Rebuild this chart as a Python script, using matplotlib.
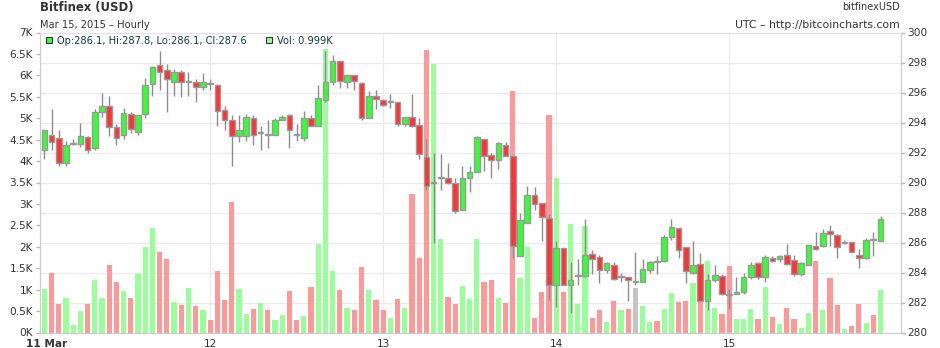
import matplotlib
matplotlib.use("Agg")
import matplotlib.pyplot as plt
from matplotlib.patches import Rectangle
from matplotlib.ticker import FixedLocator, FuncFormatter

# hourly candles, hour 1 = 11 Mar 01:00 UTC
hours = list(range(1, 118))
opens = [
    292.2, 293.2, 293.0, 291.3, 292.55, 292.6, 293.0, 292.3, 294.7, 295.1,
    293.7, 293.2, 294.6, 293.4, 294.6, 296.6, 297.8, 297.5, 296.7, 297.4,
    296.7, 296.7, 296.4, 296.6, 296.5, 294.8, 294.2, 293.1, 293.1, 294.3,
    293.3, 293.25, 293.2, 294.2, 294.5, 293.25, 293.0, 294.3, 293.8, 295.5,
    296.7, 298.1, 296.7, 297.2, 296.6, 294.3, 295.8, 295.5, 295.4, 295.4,
    293.9, 294.4, 293.8, 291.7, 290.0, 290.3, 290.3, 290.0, 288.2, 290.3,
    290.7, 292.9, 291.8, 291.5, 292.5, 291.8, 285.1, 287.3, 289.2, 288.6,
    287.6, 283.2, 285.6, 283.2, 283.8, 283.8, 285.2, 285.0, 284.2, 284.5,
    283.7, 283.7, 283.4, 283.4, 284.2, 284.75, 284.8, 286.4, 287.0, 285.7,
    284.0, 284.6, 282.1, 283.5, 283.8, 282.55, 282.6, 282.7, 283.7, 284.6,
    283.7, 285.0, 284.9, 285.2, 284.8, 283.9, 284.5, 285.8, 285.8, 286.8,
    286.5, 285.95, 286.0, 285.2, 285.0, 286.2, 286.1,
]
highs = [
    293.5, 294.9, 293.5, 292.8, 292.9, 294.0, 293.1, 294.9, 296.0, 295.8,
    293.9, 295.0, 294.7, 294.5, 297.0, 297.8, 298.8, 297.9, 297.6, 297.5,
    297.4, 296.9, 297.3, 296.9, 296.6, 295.1, 294.5, 294.5, 294.6, 294.5,
    293.8, 294.2, 294.3, 294.5, 294.6, 293.9, 294.8, 294.5, 296.5, 298.8,
    298.5, 298.1, 297.2, 297.2, 296.7, 296.1, 296.2, 295.6, 295.9, 295.4,
    294.4, 295.9, 294.3, 292.9, 292.0, 291.9, 291.3, 290.3, 291.1, 291.1,
    293.1, 292.9, 292.0, 292.7, 292.7, 291.8, 288.0, 289.8, 289.7, 288.6,
    287.9, 286.1, 285.6, 284.7, 284.9, 287.6, 285.5, 285.2, 284.7, 284.7,
    284.0, 283.7, 285.4, 284.9, 284.8, 285.1, 286.5, 287.6, 287.0, 285.7,
    286.1, 285.3, 283.9, 284.5, 283.9, 282.9, 283.7, 284.0, 284.7, 284.7,
    285.2, 285.1, 285.2, 285.9, 285.2, 284.7, 285.8, 286.7, 286.9, 287.2,
    286.6, 286.2, 286.0, 285.6, 286.3, 286.7, 287.8,
]
lows = [
    291.6, 292.2, 291.1, 291.1, 292.5, 292.4, 292.0, 292.2, 294.4, 293.1,
    292.5, 292.9, 293.3, 293.2, 294.3, 295.8, 296.2, 294.7, 295.8, 295.7,
    295.8, 295.4, 296.2, 296.2, 293.8, 293.5, 291.1, 292.7, 292.8, 292.5,
    292.2, 292.3, 293.2, 294.2, 292.3, 292.8, 292.8, 293.8, 293.8, 295.4,
    296.5, 296.3, 296.3, 296.2, 294.2, 294.3, 294.9, 295.1, 295.0, 293.8,
    293.8, 293.7, 291.6, 289.5, 286.0, 289.5, 289.9, 288.0, 288.2, 289.4,
    290.7, 290.8, 290.3, 290.9, 291.8, 285.0, 285.1, 287.3, 288.2, 286.1,
    282.2, 281.7, 283.2, 281.3, 283.2, 283.7, 283.9, 283.3, 284.0, 283.5,
    283.4, 282.1, 283.2, 283.4, 284.0, 283.9, 284.7, 286.2, 285.0, 283.3,
    283.9, 282.1, 281.5, 283.4, 282.5, 281.6, 282.6, 282.6, 283.6, 283.6,
    283.4, 284.7, 284.7, 284.5, 283.8, 283.8, 284.5, 285.5, 285.7, 285.8,
    285.0, 285.9, 285.4, 284.3, 284.9, 285.1, 286.1,
]
closes = [
    293.5, 292.7, 291.3, 292.5, 292.6, 293.1, 292.2, 294.7, 295.1, 293.7,
    293.0, 294.6, 293.6, 294.5, 296.5, 297.7, 297.4, 296.9, 297.4, 296.7,
    296.75, 296.4, 296.7, 296.55, 294.8, 294.2, 293.1, 293.5, 294.4, 293.2,
    293.35, 293.2, 294.2, 294.4, 293.5, 293.2, 294.3, 293.8, 295.6, 296.7,
    298.1, 296.8, 297.2, 296.8, 294.3, 295.8, 295.6, 295.2, 295.45, 293.9,
    294.4, 293.8, 291.9, 289.8, 290.05, 290.35, 290.0, 288.1, 290.3, 290.7,
    293.0, 291.8, 291.5, 292.6, 291.8, 285.8, 287.5, 289.2, 288.6, 287.7,
    283.2, 285.6, 283.2, 283.5, 283.85, 285.2, 284.9, 284.2, 284.6, 283.6,
    283.75, 283.5, 283.4, 284.2, 284.7, 284.7, 286.4, 287.0, 285.5, 284.1,
    284.5, 282.1, 283.5, 283.8, 282.6, 282.5, 282.7, 283.7, 284.5, 283.7,
    285.0, 284.8, 285.1, 284.6, 283.9, 284.6, 285.8, 285.6, 286.6, 286.6,
    285.7, 286.0, 285.4, 285.0, 286.2, 286.15, 287.6,
]
volumes = [
    1015, 1390, 665, 810, 175, 510, 665, 1225, 810, 1575,
    1180, 970, 810, 1365, 1995, 2440, 1880, 1715, 710, 640,
    1040, 630, 515, 290, 1440, 760, 3045, 1015, 430, 555,
    690, 515, 290, 410, 970, 290, 385, 1060, 2065, 6610,
    1435, 990, 570, 525, 1530, 990, 760, 525, 340, 780,
    570, 3230, 1740, 6590, 6260, 2180, 830, 665, 1085, 790,
    2180, 1180, 1225, 810, 690, 5635, 1270, 1995, 345, 945,
    5075, 3605, 945, 2530, 665, 2485, 340, 525, 245, 735,
    515, 560, 1040, 630, 245, 270, 560, 920, 710, 735,
    1155, 1250, 1675, 570, 430, 1550, 315, 315, 560, 315,
    1060, 360, 200, 570, 315, 105, 455, 1675, 515, 1270,
    640, 80, 150, 665, 220, 410, 999,
]

day_hours = [0, 24, 48, 72, 96]
day_labels = ["11 Mar", "12", "13", "14", "15"]
price_ticks = list(range(280, 301, 2))
vol_ticks = list(range(0, 7001, 500))

UP, DOWN = "#33ff33", "#ff3333"
VOL_UP, VOL_DOWN, VOL_FLAT = "#99ff99", "#ff9999", "#c4c4c4"
GRID = "#ebebeb"
TXT = "#333333"

fig = plt.figure(figsize=(9.4, 3.48), dpi=100)
W, H = 940.0, 348.0
ax_vol = fig.add_axes([40 / W, 15.5 / H, 860.7 / W, 300 / H])
ax = ax_vol.twinx()

xmin, xmax = 0.4, 119.8
pmin, pmax = price_ticks[0], price_ticks[-1]
vmax = vol_ticks[-1]

# grid (behind the volume bars)
for p in price_ticks[1:-1]:
    ax_vol.axhline((p - pmin) / (pmax - pmin) * vmax, color=GRID, lw=1, zorder=0)
for h in day_hours[1:]:
    ax_vol.axvline(h, color=GRID, lw=1, zorder=0)

# volume
vcols = []
for o, c in zip(opens, closes):
    if c > o:
        vcols.append(VOL_UP)
    elif c < o:
        vcols.append(VOL_DOWN)
    else:
        vcols.append(VOL_FLAT)
ax_vol.bar(hours, volumes, width=0.72, color=vcols, linewidth=0, zorder=2)

# candles
ax.vlines(hours, lows, highs, color="#8c8c8c", lw=1, zorder=3)
bottoms = [min(o, c) for o, c in zip(opens, closes)]
heights = [max(abs(c - o), 0.06) for o, c in zip(opens, closes)]
bcols = [UP if c > o else (DOWN if c < o else "#999999") for o, c in zip(opens, closes)]
ax.bar(hours, heights, bottom=bottoms, width=0.78, color=bcols,
       edgecolor="#9a9a9a", linewidth=1.0, zorder=4)

ax_vol.set_xlim(xmin, xmax)
ax_vol.set_ylim(0, vmax)
ax.set_ylim(pmin, pmax)

ax_vol.yaxis.set_major_locator(FixedLocator(vol_ticks))
ax_vol.yaxis.set_major_formatter(FuncFormatter(lambda v, _: f"{v / 1000:g}K"))
ax.yaxis.set_major_locator(FixedLocator(price_ticks))
ax.yaxis.set_major_formatter(FuncFormatter(lambda v, _: f"{v:g}"))

for a in (ax_vol, ax):
    a.tick_params(axis="y", labelsize=7.6, colors="#bbbbbb", labelcolor=TXT,
                  length=3, width=1, pad=2)
    for s in a.spines.values():
        s.set_color("#cccccc")
    a.spines["top"].set_color("#e2e2e2")
ax_vol.set_xticks([])

# day labels under the axis
for h, lab in zip(day_hours, day_labels):
    bold = lab == day_labels[0]
    ax_vol.annotate(lab, xy=(h, 0), xycoords=("data", "axes fraction"),
                    xytext=(7 if bold else 0, -8), textcoords="offset points",
                    ha="center", va="center", fontsize=7.6, color=TXT,
                    fontweight="bold" if bold else "normal", annotation_clip=False)

# header text
def fx(px):
    return px / W

def fy(py):
    return 1 - py / H

fig.text(fx(40), fy(8), "Bitfinex (USD)", fontsize=8.4, fontweight="bold",
         color=TXT, ha="left", va="center")
fig.text(fx(40), fy(25), "Mar 15, 2015 \u2013 Hourly", fontsize=7.1,
         color=TXT, ha="left", va="center")
fig.text(fx(900), fy(6.5), "bitfinexUSD", fontsize=7.0, color=TXT,
         ha="right", va="center")
fig.text(fx(900), fy(24.5), "UTC \u2013 http://bitcoincharts.com", fontsize=7.8,
         color=TXT, ha="right", va="center")

# legend (values of the last candle)
LEG = "#0d3b3b"
fig.add_artist(Rectangle((fx(45.7), fy(43.3)), 6.6 / W, 6.6 / H,
                         transform=fig.transFigure, fc=UP, ec="#333333", lw=0.8))
fig.text(fx(57), fy(40.5),
         f"Op:{opens[-1]:.1f}, Hi:{highs[-1]:.1f}, Lo:{lows[-1]:.1f}, Cl:{closes[-1]:.1f}",
         fontsize=7.1, color=LEG, ha="left", va="center")
fig.add_artist(Rectangle((fx(265.7), fy(43.3)), 6.6 / W, 6.6 / H,
                         transform=fig.transFigure, fc=VOL_UP, ec="#333333", lw=0.8))
fig.text(fx(277), fy(40.5), f"Vol: {volumes[-1] / 1000:.3f}K",
         fontsize=7.1, color=LEG, ha="left", va="center")

fig.savefig("out.png", dpi=100)
